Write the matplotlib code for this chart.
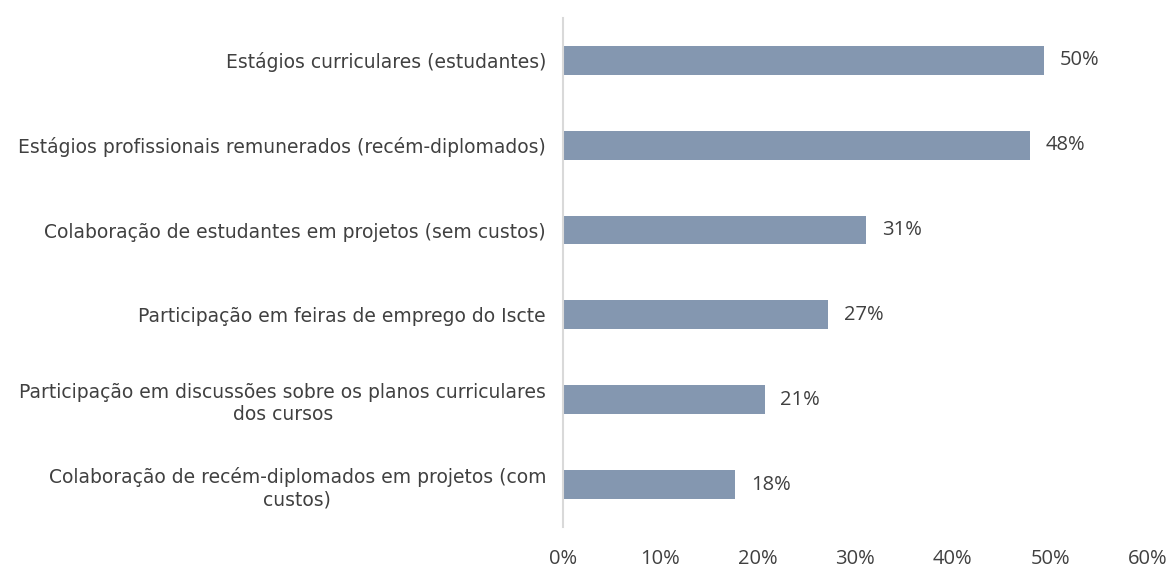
import matplotlib.pyplot as plt
import numpy as np

# dados
categorias = [
    'Estágios curriculares (estudantes)',
    'Estágios profissionais remunerados (recém-diplomados)',
    'Colaboração de estudantes em projetos (sem custos)',
    'Participação em feiras de emprego do Iscte',
    'Participação em discussões sobre os planos curriculares\ndos cursos',
    'Colaboração de recém-diplomados em projetos (com\ncustos)',
]
valores = [49.4, 47.9, 31.1, 27.2, 20.7, 17.7]
rotulos = ['50%', '48%', '31%', '27%', '21%', '18%']
ticks = [0, 10, 20, 30, 40, 50, 60]

cor_barra = '#8497B0'
cor_texto = '#404040'

fig = plt.figure(figsize=(11.7, 5.67), dpi=100)
ax = fig.add_axes([0.481, 0.0705, 0.5, 0.898])

y = np.arange(len(categorias))
ax.barh(y, valores, height=0.34, color=cor_barra)
ax.set_ylim(len(categorias) - 0.5, -0.5)
ax.set_xlim(0, 60)

# rótulos de valor
for yi, v, r in zip(y, valores, rotulos):
    ax.text(v + 1.6, yi, r, va='center', ha='left', fontsize=14.5,
            color=cor_texto, family='Open Sans')

ax.set_yticks(y)
ax.set_yticklabels(categorias, fontsize=13.5, color=cor_texto,
                   family='DejaVu Sans', linespacing=1.2)
for lbl in ax.get_yticklabels():
    lbl.set_multialignment('center')

ax.set_xticks(ticks)
ax.set_xticklabels([f'{t}%' for t in ticks], fontsize=14.5, color=cor_texto,
                   family='Open Sans')
ax.tick_params(axis='both', length=0)
ax.tick_params(axis='y', pad=12)
ax.tick_params(axis='x', pad=16)

for s in ['top', 'right', 'bottom']:
    ax.spines[s].set_visible(False)
ax.spines['left'].set_color('#d9d9d9')
ax.spines['left'].set_linewidth(1.5)

fig.savefig('out.png', dpi=100)
